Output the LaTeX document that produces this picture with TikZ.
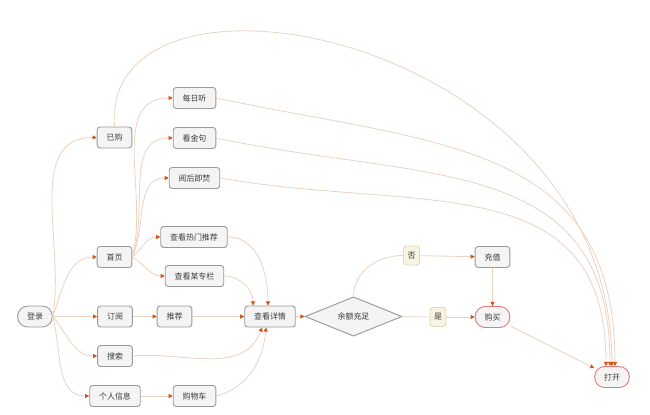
\documentclass[tikz,border=0pt]{standalone}
\usepackage{fontspec}
\usepackage{tikz}
\usetikzlibrary{shapes.geometric,arrows.meta}
\newfontfamily\cjk{Noto Sans CJK SC}

\definecolor{boxfill}{HTML}{F4F4F4}
\definecolor{boxline}{HTML}{9A9A9A}
\definecolor{redline}{HTML}{E07B7B}
\definecolor{choicefill}{HTML}{F7F4E2}
\definecolor{choiceline}{HTML}{E0DBB4}
\definecolor{linec}{HTML}{EBD3C3}
\definecolor{tipc}{HTML}{D2561A}
\definecolor{txt}{HTML}{3A3A3A}

\tikzset{
  box/.style={draw=boxline, fill=boxfill, rounded corners=2.5pt, line width=0.8pt,
    minimum height=0.63cm, inner xsep=0.28cm, inner ysep=0pt,
    font=\cjk\fontsize{6.8}{8}\selectfont, text=txt},
  pill/.style={box, rounded corners=0.3cm},
  redpill/.style={pill, draw=redline},
  choice/.style={box, fill=choicefill, draw=choiceline, inner xsep=0.12cm, minimum height=0.57cm},
  decide/.style={diamond, draw=boxline, fill=boxfill, line width=0.8pt, minimum width=2.91cm,
    minimum height=1.05cm, inner sep=0pt, font=\cjk\fontsize{6.8}{8}\selectfont, text=txt},
  link/.style={draw=linec, line width=0.7pt, -{Triangle[length=3.5pt,width=3.5pt,color=tipc]}},
  plain/.style={draw=linec, line width=0.7pt},
}

\begin{document}
\begin{tikzpicture}[x=0.03cm, y=-0.03cm]
  \useasboundingbox (0,0) rectangle (650,414);

  % Left column
  \node[pill] (denglu) at (35,316.5) {登录};
  \node[box] (yigou) at (114.5,137.5) {已购};
  \node[box] (shouye) at (114.5,257) {首页};
  \node[box] (dingyue) at (115,316.5) {订阅};
  \node[box] (sousuo) at (115,356) {搜索};
  \node[box] (geren) at (115,396) {个人信息};

  % Second column
  \node[box] (meiri) at (194.5,98) {每日听};
  \node[box] (jinju) at (194.5,138) {看金句};
  \node[box] (yuehou) at (194.5,178) {阅后即焚};
  \node[box] (remen) at (194,237) {查看热门推荐};
  \node[box] (zhuanlan) at (194.5,276) {查看某专栏};
  \node[box] (tuijian) at (174.5,316.5) {推荐};
  \node[box] (gouwu) at (194.5,396) {购物车};

  % Details and payment
  \node[box] (xiangqing) at (270,316.5) {查看详情};
  \node[decide] (yue) at (353.5,316.5) {余额充足};
  \node[choice] (fou) at (411.5,255.5) {否};
  \node[choice] (shi) at (438,317) {是};
  \node[box] (chongzhi) at (492.5,257) {充值};
  \node[redpill] (goumai) at (492.5,317) {购买};
  \node[redpill] (dakai) at (612,377) {打开};

  % From login
  \draw[link] (denglu.east) to[out=80,in=180] (yigou.west);
  \draw[link] (denglu.east) to[out=70,in=180] (shouye.west);
  \draw[link] (denglu.east) -- (dingyue.west);
  \draw[link] (denglu.east) to[out=-50,in=180] (sousuo.west);
  \draw[link] (denglu.east) to[out=-75,in=180] (geren.west);

  % From home page
  \draw[link] (shouye.east) to[out=75,in=180] (meiri.west);
  \draw[link] (shouye.east) to[out=70,in=180] (jinju.west);
  \draw[link] (shouye.east) to[out=65,in=180] (yuehou.west);
  \draw[link] (shouye.east) to[out=40,in=180] (remen.west);
  \draw[link] (shouye.east) to[out=-30,in=180] (zhuanlan.west);

  % Into details
  \draw[link] (remen.east) to[out=0,in=90] ([xshift=-0.06cm]xiangqing.north);
  \draw[link] (zhuanlan.east) to[out=0,in=90] ([xshift=-0.51cm]xiangqing.north);
  \draw[link] (dingyue) -- (tuijian);
  \draw[link] (tuijian) -- (xiangqing);
  \draw[link] (sousuo.east) to[out=5,in=-110] ([xshift=-0.24cm]xiangqing.south);
  \draw[link] (geren) -- (gouwu);
  \draw[link] (gouwu.east) to[out=15,in=-95] ([xshift=-0.12cm]xiangqing.south);

  % Balance check
  \draw[link] (xiangqing) -- (yue);
  \draw[plain] (yue.north) to[out=90,in=180] (fou.west);
  \draw[link] (fou) -- (chongzhi);
  \draw[plain] (yue) -- (shi);
  \draw[link] (shi) -- (goumai);
  \draw[link] (chongzhi) -- (goumai);

  % Into open
  \draw[link] (yigou.north) .. controls (100,-60) and (610,30) .. (dakai.north);
  \draw[link] (meiri.east) to[out=-12,in=90,looseness=1.2] ([xshift=0.09cm]dakai.north);
  \draw[link] (jinju.east) to[out=-12,in=90,looseness=1.2] ([xshift=-0.06cm]dakai.north);
  \draw[link] (yuehou.east) to[out=-10,in=90,looseness=1.2] ([xshift=-0.18cm]dakai.north);
  \draw[link] (goumai) -- (dakai);
\end{tikzpicture}
\end{document}
